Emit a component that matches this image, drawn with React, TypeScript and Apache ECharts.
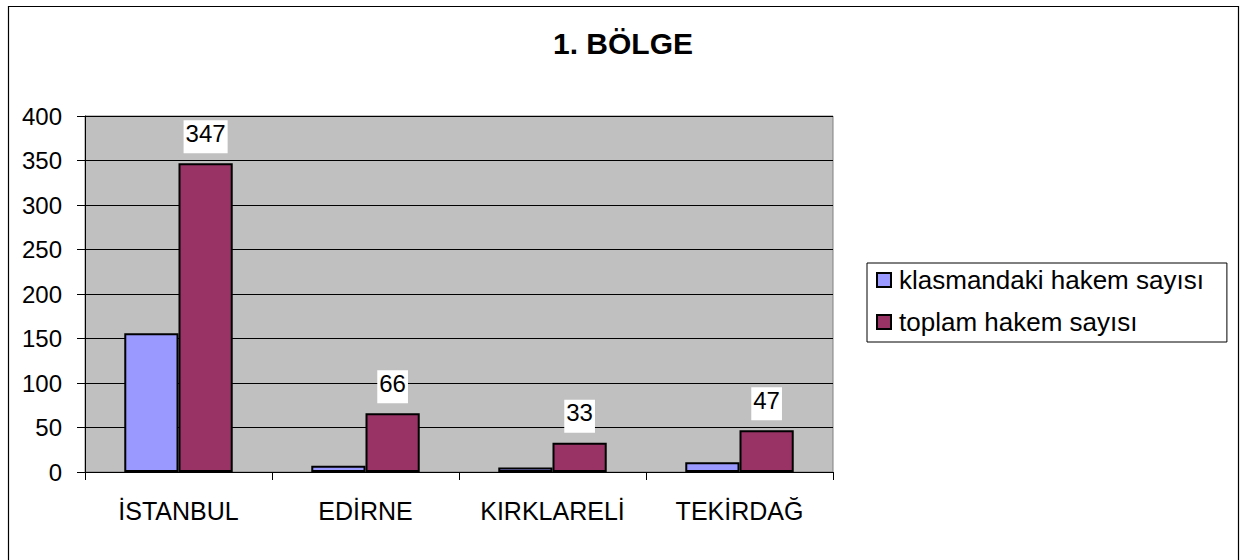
import React, { useEffect, useRef } from "react";
import * as echarts from "echarts";

const categories = ["İSTANBUL", "EDİRNE", "KIRKLARELİ", "TEKİRDAĞ"];
const klasmandaki = [156, 7, 5, 11];
const toplam = [347, 66, 33, 47];
const seriesNames = ["klasmandaki hakem sayısı", "toplam hakem sayısı"];
const titleText = "1. BÖLGE";

const FONT = "'Liberation Sans', Arial, sans-serif";

export default function App() {
  const ref = useRef<HTMLDivElement>(null);
  useEffect(() => {
    const chart = echarts.init(ref.current!, null, { renderer: "svg" });
    chart.setOption({
      animation: false,
      backgroundColor: "#ffffff",
      textStyle: { fontFamily: FONT },
      title: {
        text: titleText,
        left: "center",
        top: 23,
        textStyle: { fontFamily: FONT, fontSize: 30, fontWeight: "bold", color: "#000" },
      },
      graphic: [
        {
          type: "rect",
          shape: { x: 8.5, y: 6.5, width: 1230, height: 600 },
          style: { fill: "none", stroke: "#000", lineWidth: 1.2 },
          silent: true,
        },
      ],
      legend: {
        orient: "vertical",
        left: 867,
        top: 263,
        padding: [4, 23, 7, 9],
        itemGap: 16,
        itemWidth: 14,
        itemHeight: 14,
        icon: "rect",
        borderColor: "#000",
        borderWidth: 1,
        textStyle: {
          fontFamily: FONT,
          fontSize: 26,
          lineHeight: 26,
          color: "#000",
          padding: [0, 0, 0, 3],
        },
        data: seriesNames,
      },
      grid: {
        left: 85,
        right: 413,
        top: 116,
        bottom: 88,
        show: true,
        backgroundColor: "#C0C0C0",
        borderColor: "#808080",
        borderWidth: 1,
      },
      xAxis: {
        type: "category",
        data: categories,
        axisLine: { lineStyle: { color: "#000", width: 1 } },
        axisTick: { show: true, interval: 0, length: 8, lineStyle: { color: "#000" } },
        axisLabel: {
          interval: 0,
          hideOverlap: false,
          fontFamily: FONT,
          fontSize: 25,
          color: "#000",
          margin: 26,
        },
      },
      yAxis: {
        type: "value",
        min: 0,
        max: 400,
        interval: 50,
        axisLine: { show: true, lineStyle: { color: "#000", width: 1 } },
        axisTick: { show: true, length: 8, lineStyle: { color: "#000" } },
        axisLabel: { fontFamily: FONT, fontSize: 24, color: "#000", margin: 23 },
        splitLine: { show: true, lineStyle: { color: "#000", width: 1 } },
      },
      series: [
        {
          name: seriesNames[0],
          type: "bar",
          data: klasmandaki,
          barGap: "0%",
          barCategoryGap: "42%",
          itemStyle: { color: "#9999FF", borderColor: "#000", borderWidth: 2 },
        },
        {
          name: seriesNames[1],
          type: "bar",
          data: toplam,
          barGap: "0%",
          barCategoryGap: "42%",
          itemStyle: { color: "#993366", borderColor: "#000", borderWidth: 2 },
          label: {
            show: true,
            position: "top",
            distance: 10,
            fontFamily: FONT,
            fontSize: 24,
            lineHeight: 24,
            color: "#000",
            backgroundColor: "#fff",
            padding: [1, 2, 8, 2],
          },
        },
      ],
    });
    return () => chart.dispose();
  }, []);
  return (
    <div
      ref={ref}
      style={{ position: "absolute", left: 0, top: 0, width: 1246, height: 560 }}
    />
  );
}
